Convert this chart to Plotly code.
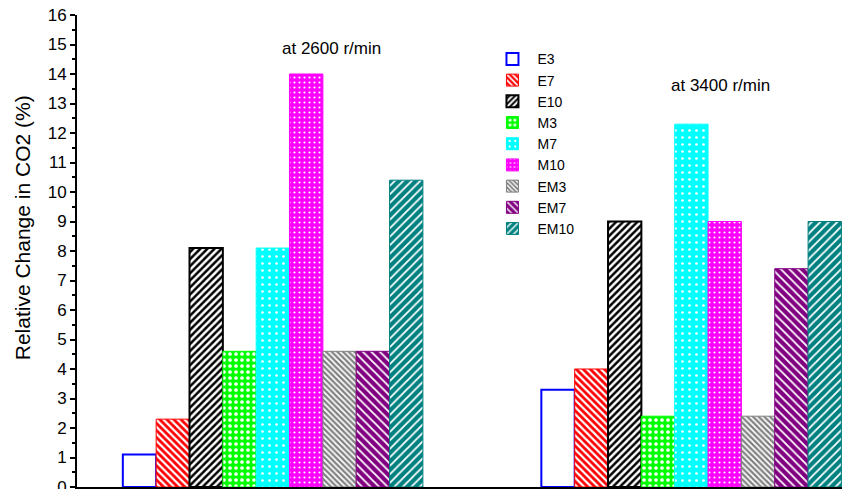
import plotly.graph_objects as go

groups = ["at 2600 r/min", "at 3400 r/min"]
series = ["E3", "E7", "E10", "M3", "M7", "M10", "EM3", "EM7", "EM10"]
values = {
    "E3":   [1.1, 3.3],
    "E7":   [2.3, 4.0],
    "E10":  [8.1, 9.0],
    "M3":   [4.6, 2.4],
    "M7":   [8.1, 12.3],
    "M10":  [14.0, 9.0],
    "EM3":  [4.6, 2.4],
    "EM7":  [4.6, 7.4],
    "EM10": [10.4, 9.0],
}
y_ticks = list(range(0, 17))
y_title = "Relative Change in CO2 (%)"

colors = {
    "E3": "#0000FF", "E7": "#FF0000", "E10": "#000000",
    "M3": "#00FF00", "M7": "#00FFFF", "M10": "#FF00FF",
    "EM3": "#808080", "EM7": "#800080", "EM10": "#008080",
}
patterns = {
    "E3": ("", 8, 0.3), "E7": ("\\", 5, 0.45), "E10": ("/", 5, 0.5),
    "M3": (".", 6, 0.3), "M7": (".", 7, 0.12), "M10": (".", 5, 0.15),
    "EM3": ("\\", 4, 0.45), "EM7": ("\\", 6, 0.3), "EM10": ("/", 6, 0.3),
}
line_w = {"E3": 2, "E10": 2}

fig = go.Figure()
xpos = [0, 1]
for s in series:
    shape, size, sol = patterns[s]
    c = colors[s]
    if s == "E3":
        marker = dict(color="white", line=dict(color=c, width=2))
    else:
        marker = dict(color=c, line=dict(color=c, width=line_w.get(s, 1)),
                      pattern=dict(shape=shape, size=size, solidity=sol,
                                   fgcolor="white", bgcolor=c, fillmode="replace"))
    fig.add_trace(go.Bar(x=xpos, y=values[s], name=s, marker=marker))

fig.add_annotation(x=0.14, y=14.85, text=groups[0], showarrow=False,
                   xref="x", yref="y", font=dict(size=17, color="black"))
fig.add_annotation(x=1.07, y=13.6, text=groups[1], showarrow=False,
                   xref="x", yref="y", font=dict(size=17, color="black"))
fig.add_annotation(x=-0.07, y=0.55, xref="paper", yref="paper", text=y_title,
                   textangle=-90, showarrow=False, xanchor="center", yanchor="middle",
                   font=dict(size=21, color="black"))

fig.update_layout(
    width=850, height=489,
    margin=dict(l=69, r=8, t=7, b=10),
    paper_bgcolor="white", plot_bgcolor="white",
    font=dict(family="Liberation Sans, Arial", size=17, color="black"),
    barmode="group", bargap=0.283, bargroupgap=0,
    showlegend=True,
    legend=dict(x=0.531, y=0.94, xanchor="left", yanchor="top",
                bgcolor="rgba(0,0,0,0)", font=dict(size=14),
                tracegroupgap=0, itemwidth=40),
    xaxis=dict(range=[-0.468, 1.379], showticklabels=False, ticks="",
               showline=True, linecolor="black", linewidth=2,
               showgrid=False, zeroline=False, automargin=False),
    yaxis=dict(range=[0, 16], tickvals=y_ticks, ticks="outside", ticklen=5,
               tickwidth=1.5, tickcolor="black", tickfont=dict(size=17),
               ticklabeloverflow="allow",
               minor=dict(dtick=0.5, ticks="outside", ticklen=3, tickcolor="black"),
               showline=True, linecolor="black", linewidth=2,
               showgrid=False, zeroline=False, automargin=False),
)

fig.write_html("out.html")
